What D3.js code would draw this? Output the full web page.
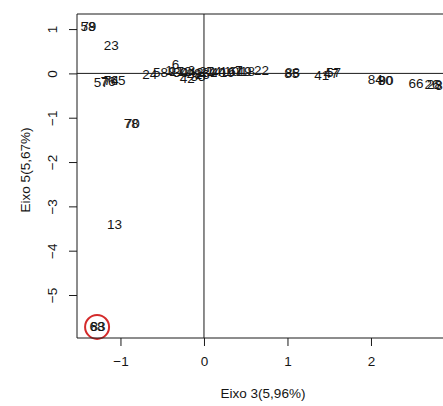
<!DOCTYPE html>
<html><head><meta charset="utf-8">
<script src="https://cdn.jsdelivr.net/npm/d3@7"></script>
<style>body{margin:0;background:#fff}svg{display:block;font-family:"Liberation Sans",Arial,sans-serif}</style>
</head><body><svg id="c" width="443" height="406"></svg>
<script>
const labels = ["58","79","23","57","76","74","65","24","58b","6","1","9","17","30","12","44","3","29","42","35","2","16","27","31","14","40","4","19","10","61","7","49","18","22","85","88","41","47","57b","84","80","90","66","26","28","36","70","78","13","68","83"];
const xVals = [-1.39,-1.38,-1.11,-1.23,-1.15,-1.11,-1.03,-0.65,-0.52,-0.34,-0.42,-0.38,-0.33,-0.28,-0.24,-0.19,-0.15,-0.12,-0.2,-0.07,-0.05,-0.02,0.03,0.07,0.12,0.17,0.22,0.28,0.33,0.38,0.42,0.48,0.52,0.69,1.05,1.06,1.41,1.52,1.55,2.05,2.17,2.18,2.54,2.73,2.76,2.86,-0.86,-0.87,-1.07,-1.28,-1.27];
const yVals = [1.05,1.05,0.62,-0.2,-0.18,-0.17,-0.17,-0.02,0.02,0.2,0.06,0.04,0.05,0.02,0.04,0.02,0.06,0.0,-0.12,-0.06,0.03,-0.02,0.04,0.02,0.05,0.03,0.05,0.03,0.04,0.05,0.06,0.04,0.05,0.07,0.0,0.01,-0.04,0.0,0.01,-0.14,-0.15,-0.16,-0.22,-0.26,-0.25,-0.27,-1.12,-1.12,-3.42,-5.72,-5.72];
const xTicks = [-1,0,1,2];
const yTicks = [1,0,-1,-2,-3,-4,-5];
const circled = [-1.28,-5.72];
const xTitle = "Eixo 3(5,96%)";
const yTitle = "Eixo 5(5,67%)";

const svg = d3.select("#c");
const L=77, T=14, B=338, R=460;
const FS=13.5;
const x = d3.scaleLinear().domain([-1.5205,3.066]).range([L,R]);
const y = d3.scaleLinear().domain([-5.97,1.34]).range([B,T]);
const ink="#1a1a1a";
const txt="#151515";

// reference lines
svg.append("line").attr("x1",x(0)).attr("x2",x(0)).attr("y1",T).attr("y2",B).attr("stroke",ink).attr("stroke-width",1);
svg.append("line").attr("x1",L).attr("x2",R).attr("y1",y(0)).attr("y2",y(0)).attr("stroke",ink).attr("stroke-width",1);

// labels
const g = svg.append("g").attr("font-size",FS).attr("fill",txt);
labels.forEach((l,i)=>{
  g.append("text").attr("x",x(xVals[i])).attr("y",y(yVals[i]))
   .attr("text-anchor","middle").attr("dominant-baseline","central")
   .text(l.replace(/[a-z]$/,""));
});

// circle
svg.append("circle").attr("cx",x(circled[0])).attr("cy",y(circled[1])).attr("r",12)
  .attr("fill","none").attr("stroke","#d42a2a").attr("stroke-width",2);

// box
svg.append("path").attr("d",`M${R},${T}H${L}V${B}H${R}`).attr("fill","none").attr("stroke",ink).attr("stroke-width",1);

// x axis
const xa = svg.append("g").attr("transform",`translate(0,${B})`)
  .call(d3.axisBottom(x).tickValues(xTicks).tickSize(8).tickPadding(10).tickFormat(d3.format("d")));
xa.select(".domain").remove();
xa.selectAll("line").attr("stroke",ink);
xa.selectAll("text").attr("font-size",FS).attr("fill",txt).attr("font-family","Liberation Sans, Arial");

// y axis
const ya = svg.append("g").attr("transform",`translate(${L},0)`)
  .call(d3.axisLeft(y).tickValues(yTicks).tickSize(8).tickFormat(d3.format("d")));
ya.select(".domain").remove();
ya.selectAll("line").attr("stroke",ink);
ya.selectAll("text").attr("font-size",FS).attr("fill",txt).attr("font-family","Liberation Sans, Arial")
  .attr("text-anchor","middle").attr("dy",null).attr("x",null)
  .attr("transform","translate(-25,0) rotate(-90)").attr("dominant-baseline","central");

svg.append("text").attr("x",263).attr("y",398).attr("text-anchor","middle")
  .attr("font-size",FS).attr("fill",txt).text(xTitle);
svg.append("text").attr("transform",`translate(25,170) rotate(-90)`).attr("text-anchor","middle")
  .attr("dominant-baseline","central").attr("font-size",FS).attr("fill",txt).text(yTitle);
</script></body></html>
